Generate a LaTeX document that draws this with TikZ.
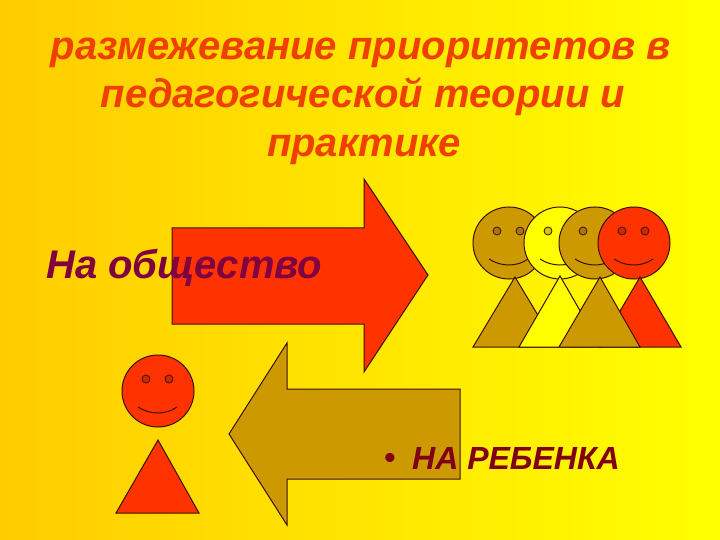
\documentclass[tikz,border=0pt]{standalone}
\usepackage{fontspec}
\setmainfont{Liberation Sans}
\definecolor{orangeL}{RGB}{255,204,0}
\definecolor{yellowR}{RGB}{255,255,0}
\definecolor{redF}{RGB}{255,51,0}
\definecolor{brownF}{RGB}{204,153,0}
\definecolor{wine}{RGB}{128,0,64}
\definecolor{darkred}{RGB}{128,0,24}
\definecolor{titleC}{RGB}{240,64,0}
\definecolor{lineC}{RGB}{60,15,0}
\tikzset{
  shp/.style={draw=lineC,line width=1pt,line join=miter},
  ttl/.style={font=\bfseries\itshape\fontsize{40}{44}\selectfont,text=titleC,inner sep=0pt,anchor=base},
  pics/person/.style={code={
    \draw[shp,fill=#1] (0,0) circle (36);
    \draw[shp,fill=#1!80!black,line width=0.8pt] (-12,-12) circle (4);
    \draw[shp,fill=#1!80!black,line width=0.8pt] (11,-12) circle (4);
    \draw[shp] (-20,16) .. controls (-8,24) and (8,24) .. (19,16);
  }}
}
\begin{document}
\begin{tikzpicture}[x=1pt,y=-1pt]
\useasboundingbox (0,0) rectangle (720,540);
\shade[left color=orangeL,right color=yellowR] (0,0) rectangle (720,540);

\node[ttl] (t1) at (361,60) {размежевание приоритетов в};
\node[ttl] (t2) at (363,108) {педагогической теории и};
\node[ttl] (t3) at (364,157) {практике};

\draw[shp,fill=redF] (172,228) -- (364,228) -- (364,179) -- (428,275) -- (364,372) -- (364,324) -- (172,324) -- cycle;
\draw[shp,fill=brownF] (460,389) -- (287,389) -- (287,343) -- (229,434) -- (287,525) -- (287,479) -- (460,479) -- cycle;

\node[inner sep=0pt,anchor=base west,font=\bfseries\itshape\fontsize{40}{44}\selectfont,text=wine] (n1) at (46,278) {На общество};
\node[inner sep=0pt,anchor=base,font=\bfseries\fontsize{32}{36}\selectfont,text=darkred] (n3) at (390,468) {•};
\node[inner sep=0pt,anchor=base west,font=\itshape\bfseries\fontsize{32}{36}\selectfont,text=darkred] (n2) at (412,469) {НА РЕБЕНКА};

\pic at (509,243) {person=brownF};
\draw[shp,fill=brownF] (515,277) -- (557,347) -- (473,347) -- cycle;
\pic at (560,243) {person=yellowR};
\draw[shp,fill=yellowR] (560,276) -- (601,347) -- (519,347) -- cycle;
\pic at (595,243) {person=brownF};
\pic at (634,243) {person=redF};
\draw[shp,fill=redF] (640,277) -- (681,347) -- (599,347) -- cycle;
\draw[shp,fill=brownF] (600,277) -- (640,347) -- (559,347) -- cycle;

\pic at (158,391) {person=redF};
\draw[shp,fill=redF] (158,440) -- (199,513) -- (116,513) -- cycle;
\end{tikzpicture}
\end{document}
